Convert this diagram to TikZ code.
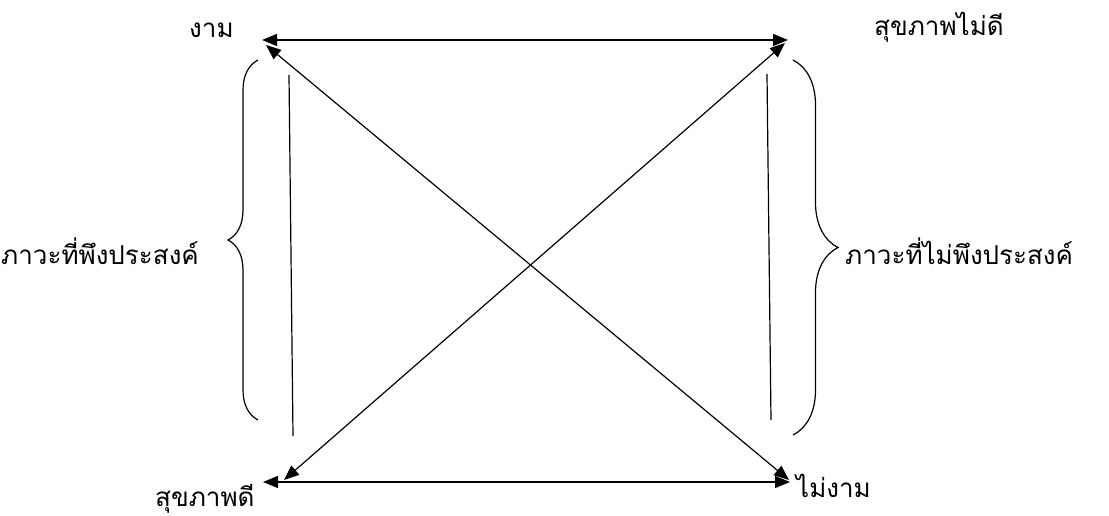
\documentclass[tikz,border=0pt]{standalone}
\usepackage{fontspec}
\newfontfamily\thaifont[Script=Thai]{Loma}
\usetikzlibrary{arrows.meta,decorations.pathreplacing}
\begin{document}
\begin{tikzpicture}[x=1pt,y=-1pt,
  lbl/.style={font=\thaifont\fontsize{26}{30}\selectfont, inner sep=0pt},
  arr/.style={{Triangle[length=15pt,width=12pt]}-{Triangle[length=15pt,width=12pt]}, line width=1.2pt},
  plain/.style={line width=1.2pt},
  bracel/.style={line width=1.2pt, decorate, decoration={brace, amplitude=30pt}},
  bracer/.style={line width=1.2pt, decorate, decoration={brace, amplitude=45pt}}
]
\useasboundingbox (0,0) rectangle (1109,516);
% labels
\node[lbl, anchor=base west] (ngam) at (189,38) {งาม};
\node[lbl, anchor=base west] (sukmaidi) at (874,36) {สุขภาพไม่ดี};
\node[lbl, anchor=base west] (sukdi) at (155,506) {สุขภาพดี};
\node[lbl, anchor=base west] (maingam) at (796,497) {ไม่งาม};
\node[lbl, anchor=base west] (phueng) at (1,264) {ภาวะที่พึงประสงค์};
\node[lbl, anchor=base west] (maiphueng) at (845,264) {ภาวะที่ไม่พึงประสงค์};
% arrow end points
\coordinate (tl) at (262,40);
\coordinate (tr) at (788,40);
\coordinate (bl) at (263,482);
\coordinate (br) at (790,482);
\coordinate (dtl) at (266,45);
\coordinate (dbr) at (789,480);
\coordinate (dtr) at (785,43);
\coordinate (dbl) at (284,480);
\draw[arr] (tl) -- (tr);
\draw[arr] (bl) -- (br);
\draw[arr] (dtl) -- (dbr);
\draw[arr] (dtr) -- (dbl);
% vertical lines
\coordinate (vlt) at (289,75);
\coordinate (vlb) at (293,436);
\coordinate (vrt) at (767,74);
\coordinate (vrb) at (771,420);
\draw[plain] (vlt) -- (vlb);
\draw[plain] (vrt) -- (vrb);
% braces
\coordinate (blt) at (258,60);
\coordinate (blb) at (258,420);
\coordinate (brt) at (793,60);
\coordinate (brb) at (793,435);
\draw[bracel] (blb) -- (blt);
\draw[bracer] (brt) -- (brb);
\end{tikzpicture}
\end{document}
